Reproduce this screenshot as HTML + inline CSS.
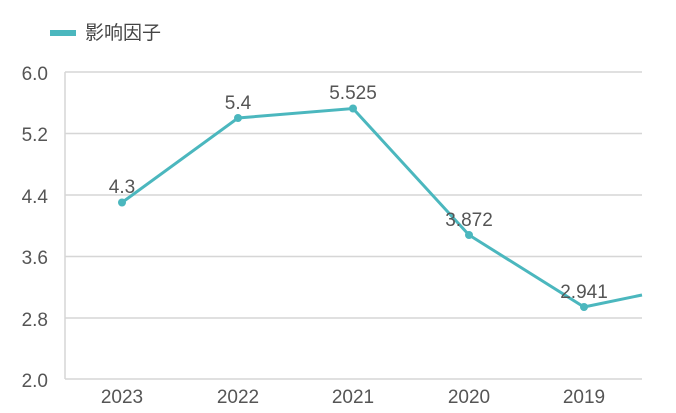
<!DOCTYPE html>
<html><head><meta charset="utf-8"><style>body{margin:0;background:#fff}</style></head><body>
<svg width="676" height="408" xmlns="http://www.w3.org/2000/svg" font-family="Liberation Sans, Noto Sans CJK SC, sans-serif">
<rect x="50" y="30" width="26" height="6" fill="#4bb7be"/>
<text x="85" y="39" font-size="19" fill="#444">影响因子</text>
<g stroke="#d6d6d6" stroke-width="1.5">
<line x1="65" y1="72" x2="642" y2="72"/>
<line x1="65" y1="133.5" x2="642" y2="133.5"/>
<line x1="65" y1="195" x2="642" y2="195"/>
<line x1="65" y1="256.5" x2="642" y2="256.5"/>
<line x1="65" y1="318" x2="642" y2="318"/>
<line x1="65" y1="379" x2="642" y2="379"/>
<line x1="65" y1="72" x2="65" y2="379"/>
</g>
<g font-size="19" fill="#555" text-anchor="end">
<text x="48" y="80">6.0</text><text x="48" y="141">5.2</text><text x="48" y="203">4.4</text>
<text x="48" y="264">3.6</text><text x="48" y="326">2.8</text><text x="48" y="387">2.0</text>
</g>
<g font-size="19" fill="#555" text-anchor="middle">
<text x="122" y="403">2023</text><text x="238" y="403">2022</text><text x="353" y="403">2021</text>
<text x="469" y="403">2020</text><text x="584" y="403">2019</text>
</g>
<polyline fill="none" stroke="#4bb7be" stroke-width="3" points="122,202.5 238,118 353,108.5 469,235 584,307 642,295"/>
<g fill="#4bb7be">
<circle cx="122" cy="202.5" r="4"/><circle cx="238" cy="118" r="4"/><circle cx="353" cy="108.5" r="4"/>
<circle cx="469" cy="235" r="4"/><circle cx="584" cy="307" r="4"/>
</g>
<g font-size="19" fill="#555" text-anchor="middle">
<text x="122" y="193">4.3</text><text x="238" y="109">5.4</text><text x="353" y="99">5.525</text>
<text x="469" y="226">3.872</text><text x="584" y="298">2.941</text>
</g>
</svg>
</body></html>
